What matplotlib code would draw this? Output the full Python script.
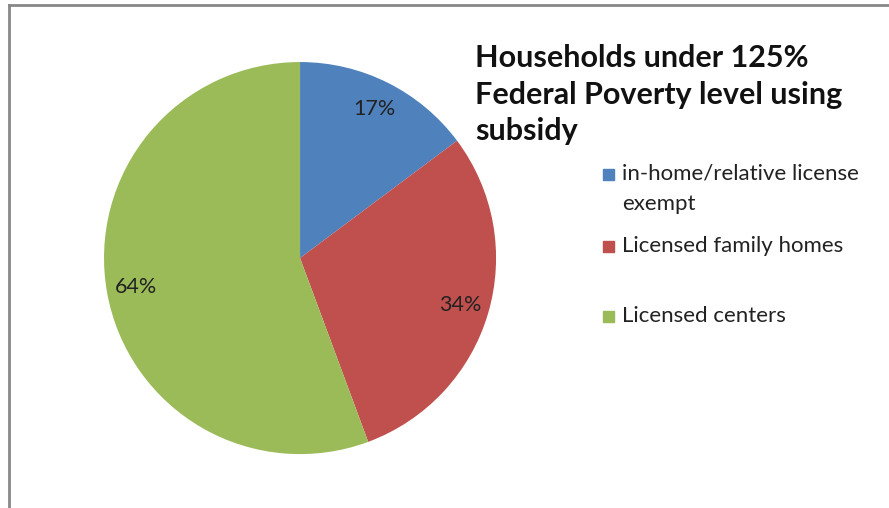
import numpy as np
import matplotlib.pyplot as plt
from matplotlib.patches import Rectangle

categories = ['in-home/relative license\nexempt', 'Licensed family homes', 'Licensed centers']
values = [17, 34, 64]
colors = ['#4F81BD', '#C0504D', '#9BBB59']
title = 'Households under 125%\nFederal Poverty level using\nsubsidy'

plt.rcParams['font.family'] = ['Lato', 'DejaVu Sans']

fig = plt.figure(figsize=(8.89, 5.08), dpi=100)
ax = fig.add_axes([0.117, 0.106, 0.441, 0.772])
total = sum(values)
wedges, texts, autotexts = ax.pie(values, colors=colors, startangle=90, counterclock=False,
                                  autopct=lambda p: '%d%%' % round(p * total / 100),
                                  pctdistance=0.85, radius=1,
                                  textprops={'fontsize': 15.5, 'color': '#222222'})
ax.set_xlim(-1, 1)
ax.set_ylim(-1, 1)
ax.set_aspect('equal')

# title
fig.text(475 / 889, 1 - 44 / 508, title, fontsize=22, fontweight='bold', va='top', ha='left',
         linespacing=1.37, color='#111111')

# legend drawn by hand to keep Excel's spacing
leg_y = [175, 247, 317]
for lab, col, y in zip(categories, colors, leg_y):
    fig.patches.append(Rectangle((603 / 889, 1 - (y + 5) / 508), 11 / 889, 11 / 508,
                                 transform=fig.transFigure, color=col))
    fig.text(622 / 889, 1 - (y - 11) / 508, lab, fontsize=16, va='top', ha='left',
             color='#222222', linespacing=1.65)

# outer frame (top and left only visible)
fig.add_artist(plt.Line2D([9 / 889, 9 / 889], [0, 1 - 5 / 508], transform=fig.transFigure,
                          color='#888888', lw=2))
fig.add_artist(plt.Line2D([9 / 889, 1], [1 - 5 / 508, 1 - 5 / 508], transform=fig.transFigure,
                          color='#888888', lw=2))

fig.savefig('out.png', dpi=100)
